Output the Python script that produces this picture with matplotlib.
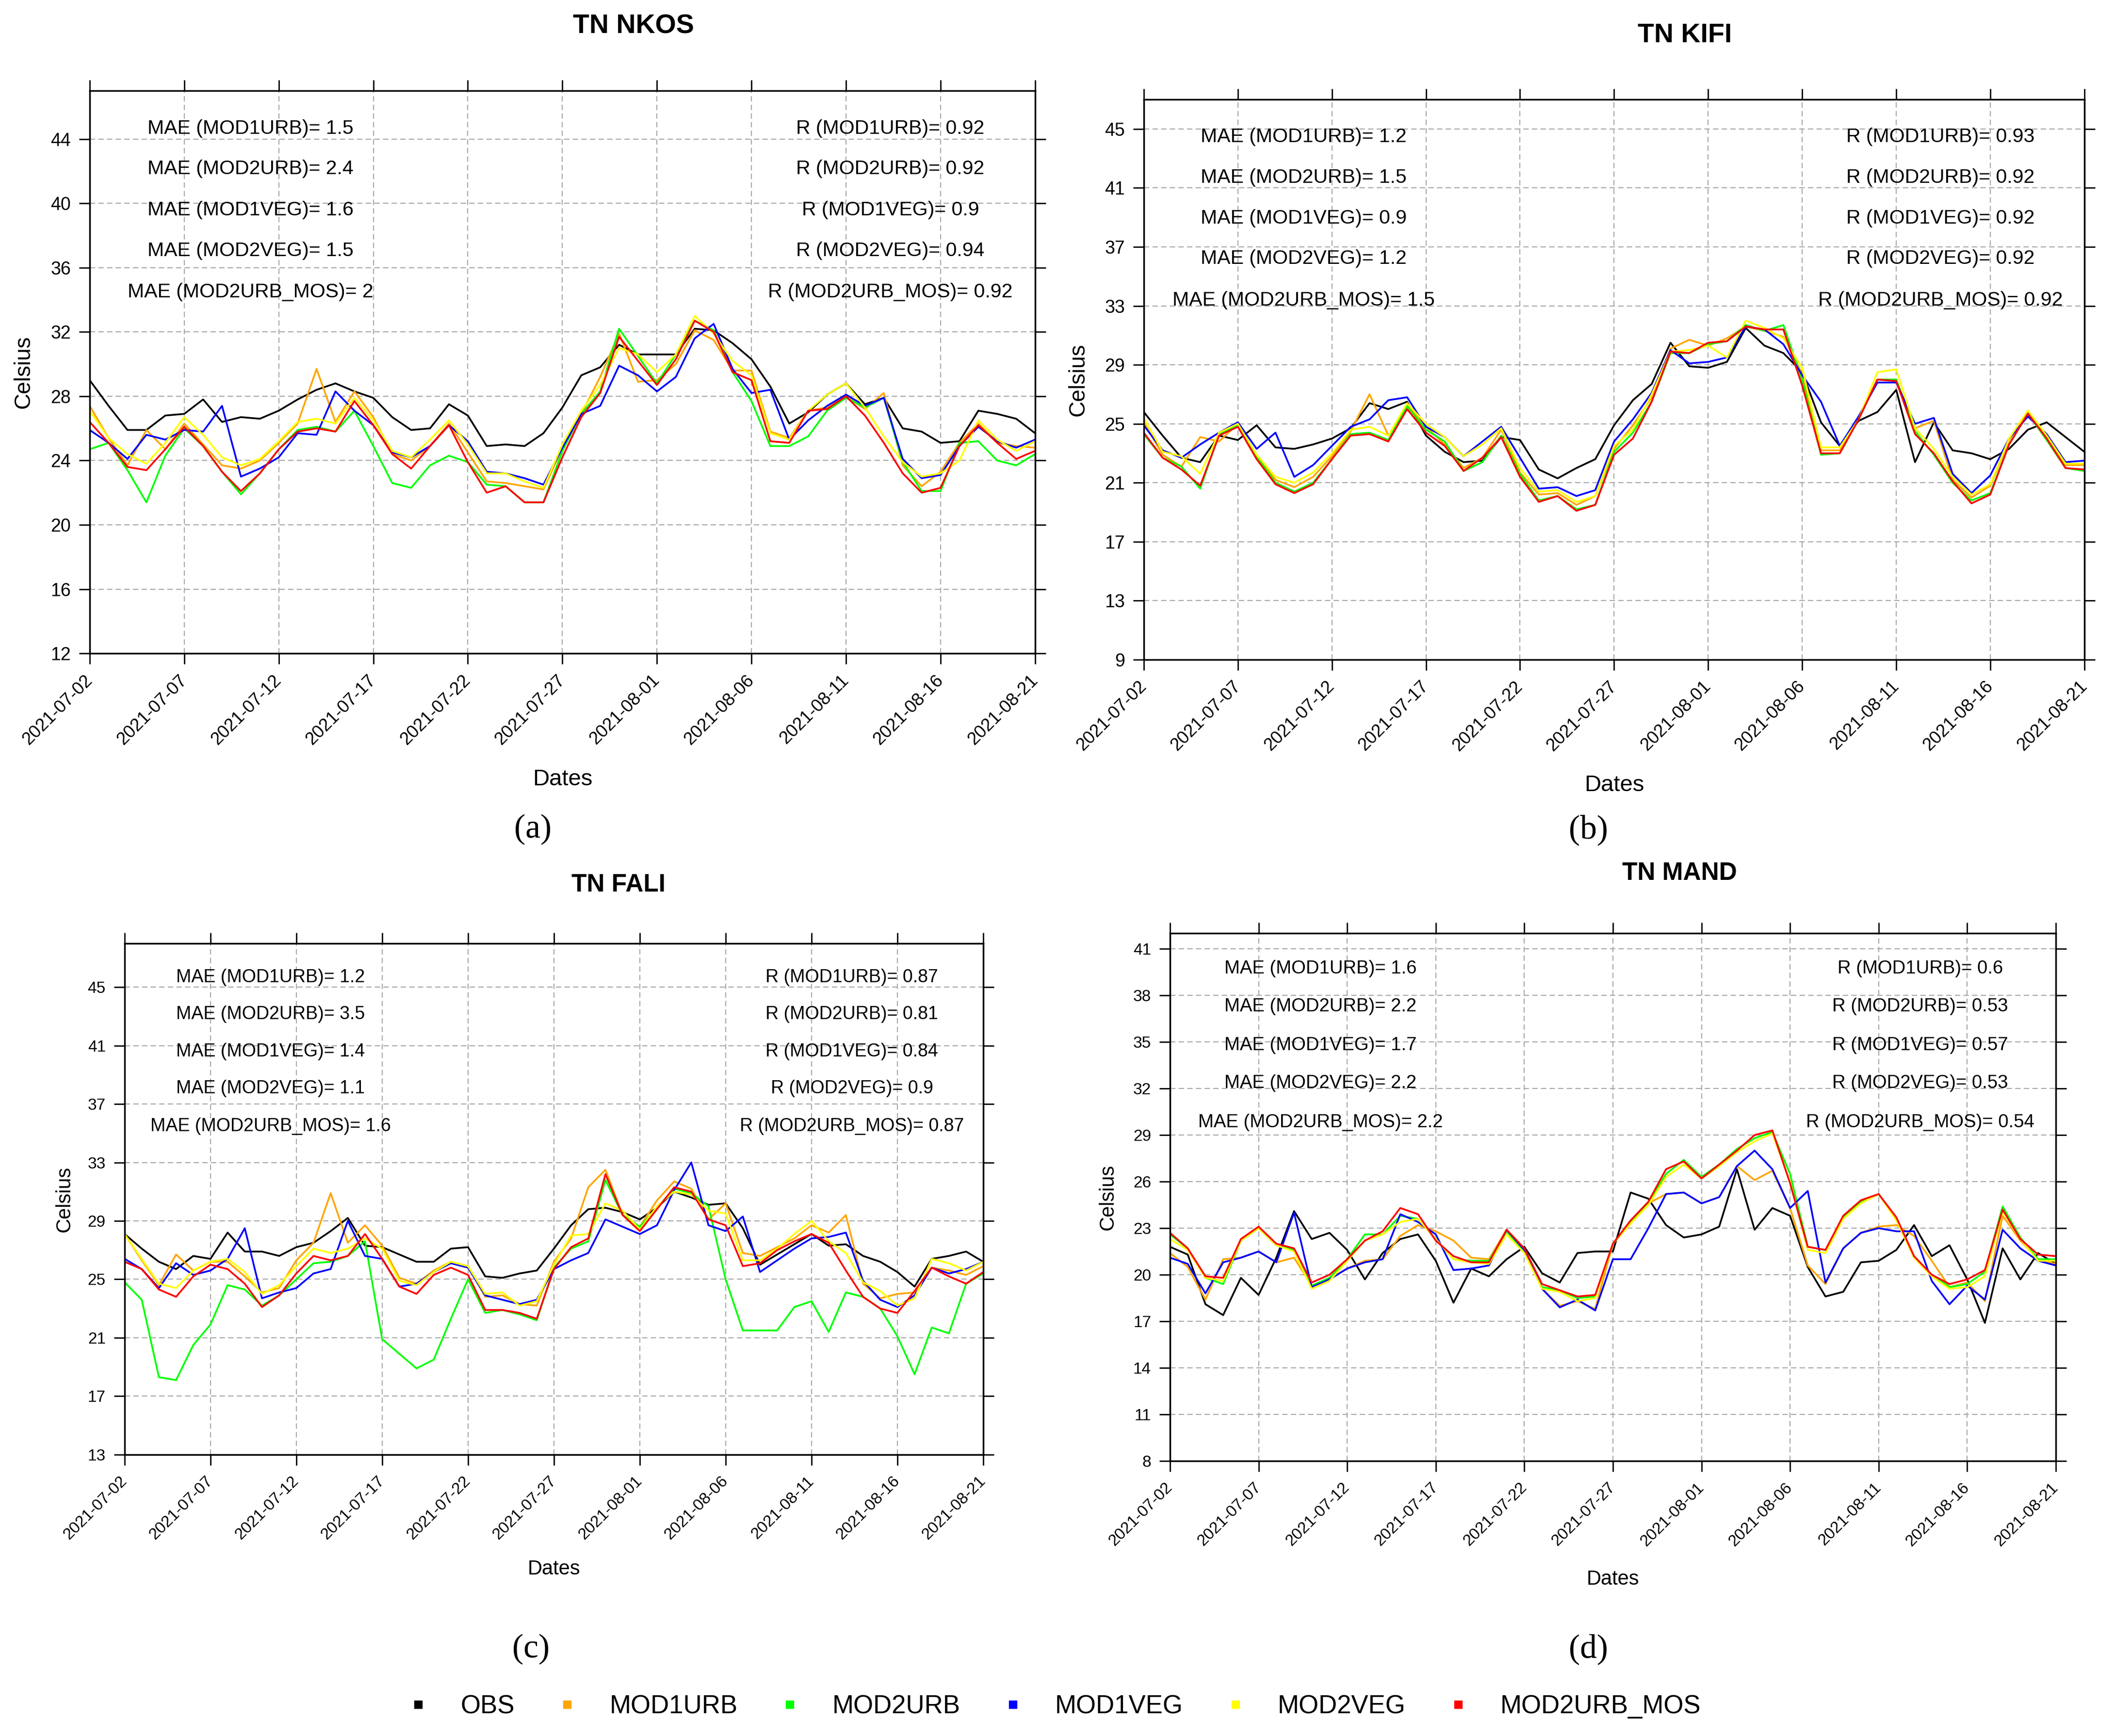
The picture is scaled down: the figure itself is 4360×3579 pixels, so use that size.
import numpy as np
import pandas as pd
import matplotlib
matplotlib.use('Agg')
import matplotlib.pyplot as plt
from matplotlib.lines import Line2D

plt.rcParams['font.family'] = ['Liberation Sans Narrow', 'Liberation Sans', 'DejaVu Sans']

dates = pd.date_range('2021-07-02', '2021-08-21', freq='D')
series_names = ['OBS', 'MOD1URB', 'MOD2URB', 'MOD1VEG', 'MOD2VEG', 'MOD2URB_MOS']
series_colors = ['black', '#FFA500', '#00FF00', '#0000FF', '#FFFF00', '#FF0000']

# ---- TN NKOS
nkos_obs = [29.0, 27.4, 25.9, 25.9, 26.8, 26.9, 27.8, 26.4, 26.7, 26.6, 27.1, 27.8, 28.4, 28.8, 28.3, 27.9, 26.7,
            25.9, 26.0, 27.5, 26.8, 24.9, 25.0, 24.9, 25.7, 27.3,
            29.3, 29.8, 31.2, 30.6, 30.6, 30.6, 32.2, 32.1, 31.3, 30.3, 28.6, 26.3, 27.0, 28.1, 28.8, 27.5, 27.9,
            26.0, 25.8, 25.1, 25.2, 27.1, 26.9, 26.6, 25.7]
nkos_mod1urb = [27.4, 25.4, 23.7, 25.9, 24.7, 26.3, 25.0, 23.7, 23.5, 24.0, 25.1, 26.3, 29.7, 26.4, 28.3, 26.7, 24.4,
                24.0, 24.9, 26.3, 24.5, 22.7, 22.6, 22.4, 22.2, 24.8,
                26.9, 29.2, 31.9, 28.9, 29.0, 30.0, 32.1, 31.5, 29.6, 29.6, 25.8, 25.4, 27.1, 27.3, 28.0, 27.2, 28.2,
                23.7, 22.4, 23.3, 25.1, 26.3, 25.1, 24.9, 24.8]
nkos_mod2urb = [24.7, 25.1, 23.4, 21.4, 24.3, 26.0, 24.9, 23.3, 21.9, 23.2, 24.7, 25.9, 26.1, 25.8, 27.1, 24.9, 22.6,
                22.3, 23.7, 24.3, 23.9, 22.5, 22.4, 21.4, 21.4, 24.6,
                26.9, 28.3, 32.2, 30.5, 28.8, 30.6, 32.7, 32.1, 29.5, 27.7, 24.9, 24.9, 25.5, 27.1, 27.9, 27.3, 27.9,
                23.9, 22.1, 22.1, 25.1, 25.2, 24.0, 23.7, 24.4]
nkos_mod1veg = [25.9, 25.1, 24.1, 25.6, 25.3, 25.9, 25.8, 27.4, 23.0, 23.5, 24.2, 25.7, 25.6, 28.3, 27.1, 26.2, 24.5,
                24.2, 24.9, 26.2, 25.2, 23.3, 23.2, 22.9, 22.5, 24.8,
                26.9, 27.4, 29.9, 29.3, 28.3, 29.2, 31.6, 32.5, 29.7, 28.2, 28.4, 25.3, 26.5, 27.4, 28.1, 27.4, 27.9,
                24.1, 22.9, 23.1, 24.9, 26.1, 25.2, 24.8, 25.3]
nkos_mod2veg = [27.1, 25.4, 24.4, 23.8, 25.1, 26.7, 25.6, 24.2, 23.7, 24.1, 25.2, 26.4, 26.6, 26.3, 27.9, 26.5, 24.6,
                24.2, 25.3, 26.5, 25.0, 23.2, 23.2, 22.7, 22.3, 25.0,
                27.1, 28.7, 31.0, 30.6, 29.5, 30.6, 33.0, 31.9, 30.2, 29.3, 25.7, 25.3, 27.1, 28.1, 28.8, 27.3, 25.5,
                23.9, 23.0, 23.2, 24.0, 26.5, 25.3, 24.6, 25.2]
nkos_mos = [26.4, 25.1, 23.6, 23.4, 24.7, 26.1, 24.9, 23.3, 22.1, 23.2, 24.7, 25.8, 26.0, 25.8, 27.7, 26.2, 24.4,
            23.5, 24.9, 26.2, 23.9, 22.0, 22.4, 21.4, 21.4, 24.2,
            26.7, 28.2, 31.7, 30.2, 28.7, 30.3, 32.7, 32.0, 29.5, 29.0, 25.2, 25.1, 27.1, 27.2, 28.0, 26.8, 25.1,
            23.2, 22.0, 22.3, 24.9, 26.2, 25.1, 24.1, 24.6]
nkos_mae = ['1.5', '2.4', '1.6', '1.5', '2']
nkos_r = ['0.92', '0.92', '0.9', '0.94', '0.92']

# ---- TN KIFI
kifi_obs = [25.8, 24.2, 22.7, 22.4, 24.2, 23.9, 24.9, 23.4, 23.3, 23.6, 24.0, 24.7, 26.4, 26.0, 26.5, 24.2, 23.1,
            22.4, 22.5, 24.1, 23.9, 21.9, 21.3, 22.0, 22.6, 24.9,
            26.6, 27.7, 30.5, 28.9, 28.8, 29.2, 31.5, 30.3, 29.8, 28.5, 25.1, 23.5, 25.2, 25.8, 27.3, 22.4, 25.1,
            23.2, 23.0, 22.6, 23.3, 24.6, 25.1, 24.1, 23.1]
kifi_mod1urb = [25.1, 22.9, 22.1, 24.1, 23.8, 25.0, 22.8, 21.2, 20.7, 21.4, 22.8, 24.5, 27.0, 24.2, 26.3, 24.8, 23.6,
                22.0, 22.7, 24.6, 21.7, 20.2, 20.3, 19.5, 20.1, 23.3,
                24.9, 26.8, 30.1, 30.7, 30.3, 30.8, 31.6, 31.3, 30.9, 28.4, 23.2, 23.2, 25.3, 28.0, 28.0, 24.7, 25.2,
                21.2, 20.0, 20.8, 23.9, 25.8, 24.1, 22.2, 22.2]
kifi_mod2urb = [24.3, 22.7, 22.1, 20.6, 24.3, 24.9, 22.8, 21.0, 20.4, 21.0, 22.6, 24.3, 24.4, 23.9, 26.2, 24.6, 23.8,
                21.8, 22.4, 24.2, 21.6, 19.8, 20.1, 19.2, 19.5, 23.1,
                24.4, 26.5, 29.8, 29.8, 30.4, 30.6, 31.7, 31.3, 31.7, 28.0, 22.9, 23.0, 25.3, 28.0, 28.0, 24.5, 22.9,
                21.0, 19.8, 20.3, 23.6, 25.7, 23.9, 22.0, 21.8]
kifi_mod1veg = [24.9, 23.2, 22.7, 23.6, 24.4, 25.1, 23.3, 24.4, 21.4, 22.2, 23.5, 24.8, 25.3, 26.6, 26.8, 24.8, 24.1,
                22.8, 23.8, 24.8, 22.7, 20.6, 20.7, 20.1, 20.5, 23.8,
                25.3, 27.1, 30.0, 29.1, 29.2, 29.5, 31.6, 31.4, 30.4, 28.3, 26.5, 23.5, 25.5, 27.8, 27.8, 25.0, 25.4,
                21.6, 20.3, 21.5, 24.0, 25.5, 24.3, 22.4, 22.5]
kifi_mod2veg = [25.4, 23.1, 22.8, 21.6, 24.4, 25.0, 22.9, 21.4, 21.0, 21.7, 23.0, 24.6, 24.8, 24.2, 26.4, 25.0, 24.1,
                22.8, 23.6, 24.7, 22.0, 20.4, 20.5, 19.7, 20.1, 23.5,
                24.6, 27.0, 29.9, 30.0, 30.3, 29.5, 32.0, 31.5, 30.8, 28.8, 23.4, 23.4, 25.3, 28.5, 28.7, 24.7, 23.3,
                21.4, 20.2, 20.9, 24.0, 25.9, 24.2, 22.3, 22.3]
kifi_mos = [24.4, 22.7, 21.9, 20.8, 24.2, 24.8, 22.6, 20.9, 20.3, 20.9, 22.6, 24.2, 24.3, 23.8, 26.0, 24.4, 23.5,
            21.8, 22.7, 24.1, 21.4, 19.7, 20.1, 19.1, 19.5, 22.9,
            24.0, 26.5, 29.9, 29.8, 30.5, 30.6, 31.6, 31.4, 31.4, 27.6, 23.0, 23.0, 25.3, 28.0, 27.9, 24.3, 23.0,
            21.1, 19.6, 20.2, 23.6, 25.7, 24.0, 22.0, 21.9]
kifi_mae = ['1.2', '1.5', '0.9', '1.2', '1.5']
kifi_r = ['0.93', '0.92', '0.92', '0.92', '0.92']

# ---- TN FALI
fali_obs = [28.1, 27.1, 26.2, 25.7, 26.6, 26.4, 28.2, 26.9, 26.9, 26.6, 27.2, 27.5, 28.3, 29.2, 27.3, 27.2, 26.7,
            26.2, 26.2, 27.1, 27.2, 25.2, 25.1, 25.4, 25.6, 27.1,
            28.7, 29.8, 29.9, 29.6, 29.1, 29.9, 31.0, 30.6, 30.1, 30.2, 28.5, 26.0, 26.7, 27.4, 28.1, 27.3, 27.4,
            26.6, 26.2, 25.5, 24.5, 26.4, 26.6, 26.9, 26.2]
fali_mod1urb = [28.1, 26.3, 24.6, 26.7, 25.6, 26.2, 26.2, 25.2, 24.1, 24.4, 26.3, 27.5, 30.9, 27.5, 28.7, 27.3, 25.1,
                24.7, 25.6, 26.2, 25.9, 23.8, 23.9, 23.3, 23.2, 26.2,
                27.8, 31.3, 32.5, 29.4, 28.6, 30.4, 31.7, 31.2, 29.1, 30.2, 26.8, 26.6, 27.2, 27.8, 28.7, 28.2, 29.4,
                24.7, 23.7, 24.0, 24.1, 25.8, 25.6, 25.3, 25.9]
fali_mod2urb = [24.8, 23.6, 18.3, 18.1, 20.5, 21.9, 24.6, 24.3, 23.2, 23.9, 25.0, 26.1, 26.2, 26.6, 27.6, 20.9, 19.9,
                18.9, 19.5, 22.3, 25.0, 22.7, 22.9, 22.6, 22.2, 25.8,
                27.1, 27.6, 31.8, 29.4, 28.6, 29.9, 31.2, 30.9, 30.0, 25.0, 21.5, 21.5, 21.5, 23.1, 23.5, 21.4, 24.1,
                23.8, 23.0, 21.1, 18.5, 21.7, 21.3, 24.7, 25.4]
fali_mod1veg = [26.4, 25.7, 24.4, 26.1, 25.3, 25.6, 26.4, 28.5, 23.7, 24.1, 24.4, 25.4, 25.7, 29.0, 26.6, 26.4, 24.5,
                24.7, 25.5, 26.1, 25.8, 23.9, 23.6, 23.3, 23.6, 25.7,
                26.3, 26.8, 29.1, 28.6, 28.1, 28.7, 31.1, 33.0, 28.7, 28.3, 29.3, 25.5, 26.3, 27.1, 27.8, 27.9, 28.2,
                24.9, 23.6, 23.1, 23.9, 25.8, 25.4, 25.7, 26.2]
fali_mod2veg = [28.1, 26.4, 24.7, 24.4, 25.6, 26.2, 26.4, 25.5, 24.0, 24.6, 25.9, 27.1, 26.8, 27.1, 27.8, 27.1, 24.9,
                24.6, 25.5, 26.2, 25.9, 24.0, 24.1, 23.2, 23.5, 26.0,
                28.0, 28.1, 30.2, 29.7, 28.4, 30.0, 31.0, 30.8, 29.7, 29.5, 26.3, 26.3, 27.1, 28.1, 29.0, 27.6, 26.8,
                24.8, 24.2, 23.2, 23.7, 26.4, 26.1, 25.6, 26.2]
fali_mos = [26.2, 25.7, 24.3, 23.8, 25.2, 26.0, 25.7, 24.7, 23.1, 23.9, 25.4, 26.6, 26.3, 26.6, 28.1, 26.4, 24.5,
            24.0, 25.3, 25.8, 25.3, 22.9, 22.9, 22.7, 22.3, 25.7,
            27.2, 27.8, 32.2, 29.4, 28.3, 29.8, 31.3, 31.0, 29.1, 28.7, 25.9, 26.1, 27.0, 27.6, 28.1, 27.5, 25.6,
            23.8, 23.0, 22.7, 24.2, 25.8, 25.2, 24.7, 25.5]
fali_mae = ['1.2', '3.5', '1.4', '1.1', '1.6']
fali_r = ['0.87', '0.81', '0.84', '0.9', '0.87']

# ---- TN MAND
mand_obs = [21.8, 21.3, 18.1, 17.4, 19.8, 18.7, 21.1, 24.1, 22.3, 22.7, 21.6, 19.7, 21.4, 22.3, 22.6, 20.9, 18.2,
            20.4, 19.9, 21.0, 21.8, 20.1, 19.5, 21.4, 21.5, 21.5,
            25.3, 24.9, 23.2, 22.4, 22.6, 23.1, 26.8, 22.9, 24.3, 23.8, 20.5, 18.6, 18.9, 20.8, 20.9, 21.6, 23.2,
            21.2, 21.9, 19.7, 16.9, 21.7, 19.7, 21.4, 20.7]
mand_mod1urb = [21.4, 20.5, 18.4, 21.0, 21.1, 21.5, 20.8, 21.1, 19.3, 19.7, 20.4, 20.9, 21.0, 22.5, 23.2, 22.8, 22.2,
                21.1, 21.0, 22.9, 21.6, 19.1, 18.0, 18.3, 17.8, 22.0,
                23.3, 24.6, 25.2, 25.3, 24.6, 25.0, 27.0, 26.1, 26.7, 24.3, 20.6, 19.4, 21.7, 22.7, 23.1, 23.2, 22.5,
                20.9, 19.2, 19.5, 18.3, 23.8, 22.2, 21.0, 20.7]
mand_mod2urb = [22.6, 21.7, 19.8, 19.4, 22.2, 23.0, 21.9, 21.6, 19.3, 19.8, 21.0, 22.6, 22.6, 23.8, 23.6, 22.3, 21.0,
                20.9, 20.9, 22.8, 21.5, 19.2, 19.0, 18.5, 18.6, 22.0,
                23.4, 24.6, 26.5, 27.4, 26.3, 27.1, 28.1, 28.8, 29.2, 26.5, 21.8, 21.6, 23.7, 24.7, 25.2, 23.6, 21.1,
                20.0, 19.2, 19.4, 20.2, 24.4, 22.4, 21.0, 21.0]
mand_mod1veg = [21.1, 20.7, 18.8, 20.8, 21.1, 21.5, 20.8, 24.0, 19.2, 19.7, 20.4, 20.8, 21.0, 23.9, 23.4, 22.6, 20.3,
                20.4, 20.6, 22.9, 21.6, 19.1, 17.9, 18.4, 17.7, 21.0,
                21.0, 23.0, 25.2, 25.3, 24.6, 25.0, 27.0, 28.0, 26.8, 24.3, 25.4, 19.5, 21.7, 22.7, 23.0, 22.8, 22.8,
                19.6, 18.1, 19.3, 18.4, 22.9, 21.7, 20.9, 20.6]
mand_mod2veg = [22.3, 21.6, 19.8, 19.6, 22.2, 23.0, 21.9, 21.5, 19.1, 19.6, 20.9, 22.2, 22.6, 23.4, 23.6, 22.3, 21.0,
                20.8, 20.7, 22.6, 21.4, 19.1, 18.9, 18.3, 18.5, 22.0,
                23.3, 24.5, 26.3, 27.1, 26.2, 27.0, 27.9, 28.6, 29.1, 26.0, 21.6, 21.4, 23.6, 24.6, 25.2, 23.5, 21.1,
                19.9, 19.1, 19.2, 19.9, 24.1, 22.3, 20.9, 20.9]
mand_mos = [22.7, 21.7, 19.9, 19.8, 22.3, 23.1, 22.0, 21.7, 19.5, 20.0, 21.0, 22.2, 22.8, 24.3, 23.9, 22.2, 21.2,
            20.8, 20.8, 22.9, 21.7, 19.4, 19.0, 18.6, 18.7, 22.0,
            23.5, 24.7, 26.8, 27.3, 26.2, 27.1, 28.0, 29.0, 29.3, 25.9, 21.8, 21.6, 23.8, 24.8, 25.2, 23.7, 21.2,
            20.0, 19.4, 19.7, 20.3, 24.2, 22.3, 21.3, 21.2]
mand_mae = ['1.6', '2.2', '1.7', '2.2', '2.2']
mand_r = ['0.6', '0.53', '0.57', '0.53', '0.54']

panels = [
    dict(title='TN NKOS', tag='(a)', rect=[0.0424, 0.6236, 0.4470, 0.3241], ylim=(12, 47),
         yticks=np.arange(12, 45, 4), tag_xy=(0.252, 0.522),
         series=[nkos_obs, nkos_mod1urb, nkos_mod2urb, nkos_mod1veg, nkos_mod2veg, nkos_mos],
         mae=nkos_mae, r=nkos_r, fs_txt=29.5, fs_y=27, fs_x=26.5, fs_title=40, fs_dates=34, fs_cel=33),
    dict(title='TN KIFI', tag='(b)', rect=[0.5408, 0.6200, 0.4447, 0.3227], ylim=(9, 47),
         yticks=np.arange(9, 46, 4), tag_xy=(0.751, 0.522),
         series=[kifi_obs, kifi_mod1urb, kifi_mod2urb, kifi_mod1veg, kifi_mod2veg, kifi_mos],
         mae=kifi_mae, r=kifi_r, fs_txt=29.5, fs_y=27, fs_x=26.5, fs_title=40, fs_dates=34, fs_cel=33),
    dict(title='TN FALI', tag='(c)', rect=[0.0589, 0.1621, 0.4060, 0.2945], ylim=(13, 48),
         yticks=np.arange(13, 46, 4), tag_xy=(0.251, 0.050),
         series=[fali_obs, fali_mod1urb, fali_mod2urb, fali_mod1veg, fali_mod2veg, fali_mos],
         mae=fali_mae, r=fali_r, fs_txt=27, fs_y=24, fs_x=24, fs_title=37, fs_dates=30, fs_cel=30),
    dict(title='TN MAND', tag='(d)', rect=[0.5532, 0.1584, 0.4188, 0.3040], ylim=(8, 42),
         yticks=np.arange(8, 42, 3), tag_xy=(0.751, 0.050),
         series=[mand_obs, mand_mod1urb, mand_mod2urb, mand_mod1veg, mand_mod2veg, mand_mos],
         mae=mand_mae, r=mand_r, fs_txt=27.5, fs_y=24, fs_x=24, fs_title=37, fs_dates=30, fs_cel=30),
]

fig = plt.figure(figsize=(43.6, 35.79), dpi=100)

row_y = [0.933, 0.861, 0.788, 0.716, 0.642]
models = ['MOD1URB', 'MOD2URB', 'MOD1VEG', 'MOD2VEG', 'MOD2URB_MOS']

for p in panels:
    ax = fig.add_axes(p['rect'])
    for vals, col in zip(p['series'], series_colors):
        ax.plot(dates, vals, color=col, lw=2.6)
    ax.set_xlim(dates[0], dates[-1])
    ax.set_ylim(*p['ylim'])
    ax.set_yticks(p['yticks'])
    ax.set_xticks(dates[::5])
    ax.set_xticklabels([d.strftime('%Y-%m-%d') for d in dates[::5]], rotation=45, ha='right',
                       va='center', rotation_mode='anchor', fontsize=p['fs_x'])
    ax.tick_params(axis='y', labelsize=p['fs_y'], pad=12)
    ax.tick_params(axis='x', pad=20)
    ax.tick_params(direction='out', length=16, width=2, top=True, right=True)
    ax.set_axisbelow(True)
    ax.grid(True, ls=(0, (5, 3)), color='#aaaaaa', lw=1.6)
    for sp in ax.spines.values():
        sp.set_linewidth(2.5)

    ax.set_xlabel('Dates', fontsize=p['fs_dates'])
    ax.xaxis.set_label_coords(0.5, -0.224)
    ax.xaxis.label.set_va('center')
    ax.set_ylabel('Celsius', fontsize=p['fs_cel'], family=['Liberation Sans', 'DejaVu Sans'])
    ax.yaxis.set_label_coords(-0.07, 0.5)
    ax.yaxis.label.set_va('center')

    ax.text(0.575, 1.114, p['title'], transform=ax.transAxes, ha='center', va='center',
            fontsize=p['fs_title'], fontweight='bold')

    for k, m in enumerate(models):
        ax.text(0.17, row_y[k], 'MAE (%s)= %s' % (m, p['mae'][k]), transform=ax.transAxes,
                ha='center', va='center', fontsize=p['fs_txt'])
        ax.text(0.847, row_y[k], 'R (%s)= %s' % (m, p['r'][k]), transform=ax.transAxes,
                ha='center', va='center', fontsize=p['fs_txt'])

    fig.text(p['tag_xy'][0], p['tag_xy'][1], p['tag'], ha='center', va='center', fontsize=50,
             family=['Liberation Serif', 'DejaVu Serif'])

handles = [Line2D([], [], ls='none', marker='s', markersize=11, color=c) for c in series_colors]
fig.legend(handles, series_names, loc='center', bbox_to_anchor=(0.498, 0.017), ncol=6, frameon=False,
           handlelength=1.0, handletextpad=1.15, columnspacing=1.55,
           prop={'family': ['Liberation Sans', 'DejaVu Sans'], 'size': 38})

fig.savefig('out.png', dpi=100)
